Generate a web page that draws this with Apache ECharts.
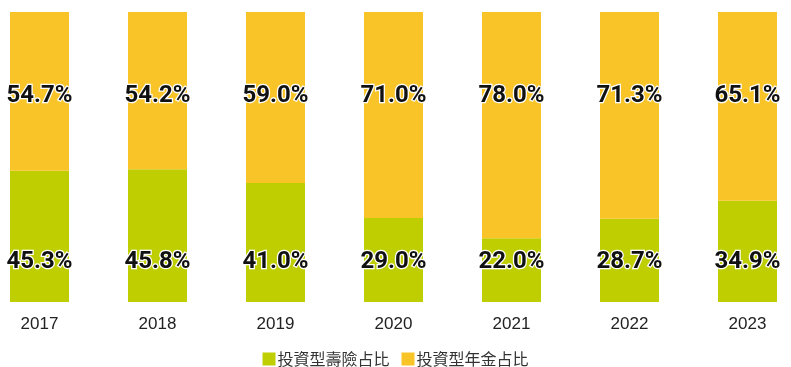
<!DOCTYPE html>
<html><head><meta charset="utf-8">
<script src="https://cdn.jsdelivr.net/npm/echarts@6/dist/echarts.min.js"></script>
<style>html,body{margin:0;padding:0;background:#fff}#c{width:791px;height:367px}</style>
</head><body><div id="c"></div>
<script>
var years = ['2017','2018','2019','2020','2021','2022','2023'];
var lifeShare = [45.3, 45.8, 41.0, 29.0, 22.0, 28.7, 34.9];
var annuityShare = [54.7, 54.2, 59.0, 71.0, 78.0, 71.3, 65.1];
var seriesNames = ['投資型壽險占比', '投資型年金占比'];

var chart = echarts.init(document.getElementById('c'));
var labelStyle = {
  show: true,
  fontFamily: 'Roboto',
  fontWeight: 'bold',
  fontSize: 24,
  color: '#111',
  textBorderColor: '#fff',
  textBorderWidth: 2.5,
  formatter: function (p) { return p.value.toFixed(1) + '%'; }
};
chart.setOption({
  animation: false,
  grid: { left: 39.5, right: 43.5, top: 12, bottom: 65 },
  legend: {
    top: 346,
    left: 'center',
    itemWidth: 13, itemHeight: 13, itemGap: 12,
    icon: 'rect',
    textStyle: { fontFamily: 'Noto Sans CJK TC', fontSize: 16, color: '#333', padding: [0,0,0,-3] },
    data: seriesNames
  },
  xAxis: {
    type: 'category', data: years, boundaryGap: false,
    axisLine: { show: false }, axisTick: { show: false },
    axisLabel: { margin: 14, fontFamily: 'Liberation Sans', fontSize: 17, color: '#222' }
  },
  yAxis: { type: 'value', min: 0, max: 100, show: false, splitLine: { show: false } },
  series: [
    { name: seriesNames[0], type: 'bar', stack: 'a', data: lifeShare, barWidth: 59,
      itemStyle: { color: '#BECE00' },
      label: Object.assign({}, labelStyle, { position: 'insideBottom', distance: 28 }) },
    { name: seriesNames[1], type: 'bar', stack: 'a', data: annuityShare, barWidth: 59,
      itemStyle: { color: '#F8C427' },
      label: Object.assign({}, labelStyle, { position: 'insideTop', distance: 72 }) }
  ]
});
</script></body></html>
